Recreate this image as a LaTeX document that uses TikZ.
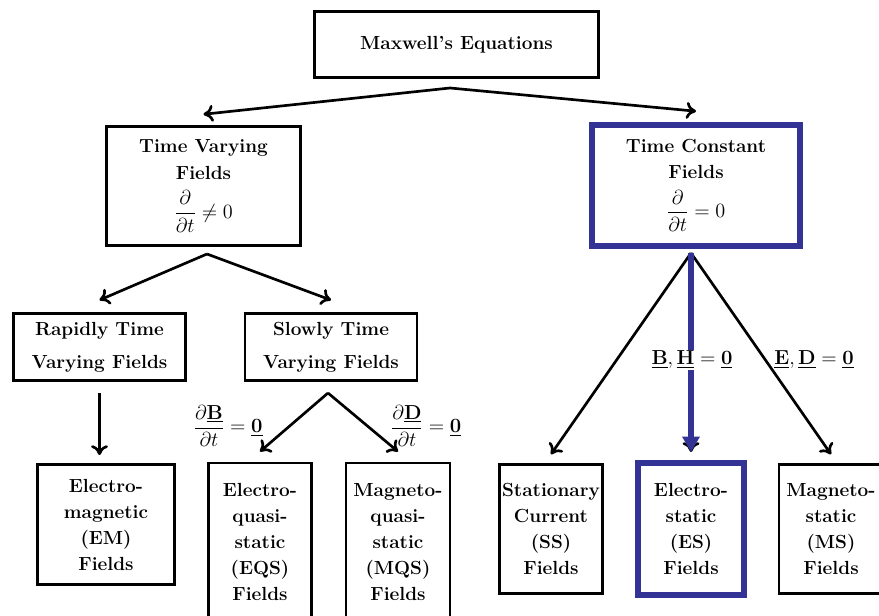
\documentclass[tikz,border=0pt]{standalone}
\usetikzlibrary{arrows.meta}
\usepackage{xcolor}
\definecolor{esblue}{RGB}{51,51,150}

% underlined bold vector
\newcommand{\vb}[1]{\underline{\mathbf{#1}}}

\begin{document}
\begin{tikzpicture}[x=0.025cm,y=-0.025cm,
  font=\fontsize{13.5}{18.5}\selectfont\bfseries,
  box/.style={draw,line width=2pt,align=center,inner sep=0pt},
  bluebox/.style={box,draw=esblue,line width=4.2pt},
  arr/.style={line width=1.9pt,-{To[length=7pt,width=12pt]}},
  bluearr/.style={esblue,line width=3.6pt,-{Triangle[length=11pt,width=12pt]}},
  cond/.style={font=\fontsize{13.5}{16}\selectfont,inner sep=1pt}]
\useasboundingbox (0,0) rectangle (879,616);
\clip (0,0) rectangle (879,616);

% boxes
\node[box,minimum width=7.1cm,minimum height=1.65cm] (maxwell) at (456.5,44.5) {Maxwell's Equations};
\node[box,minimum width=4.85cm,minimum height=2.975cm] (varying) at (203.5,186) {Time Varying\\Fields\\[7pt]$\displaystyle\frac{\partial}{\partial t}\neq 0$};
\node[bluebox,minimum width=5.2cm,minimum height=3.025cm] (constant) at (696,185.5) {Time Constant\\Fields\\[7pt]$\displaystyle\frac{\partial}{\partial t}=0$};
\node[box,minimum width=4.3cm,minimum height=1.675cm] (rapid) at (99.5,347) {Rapidly Time\\[5pt]Varying Fields};
\node[box,minimum width=4.3cm,minimum height=1.675cm] (slow) at (331,347) {Slowly Time\\[5pt]Varying Fields};
\node[box,minimum width=3.425cm,minimum height=3cm] (em) at (106,524.5) {Electro-\\magnetic\\(EM)\\Fields};
\node[box,minimum width=2.575cm,minimum height=3.95cm] (eqs) at (260,542) {Electro-\\quasi-\\static\\(EQS)\\Fields};
\node[box,minimum width=2.6cm,minimum height=3.95cm] (mqs) at (398,542) {Magneto-\\quasi-\\static\\(MQS)\\Fields};
\node[box,minimum width=2.575cm,minimum height=3.225cm] (ss) at (551,529) {Stationary\\Current\\(SS)\\Fields};
\node[bluebox,minimum width=2.65cm,minimum height=3.3cm] (es) at (691,529) {Electro-\\static\\(ES)\\Fields};
\node[box,minimum width=2.6cm,minimum height=3.225cm] (ms) at (831,529) {Magneto-\\static\\(MS)\\Fields};

% branch points
\coordinate (mapex) at (450,88);
\coordinate (vapex) at (207,254);
\coordinate (sapex) at (328,393);
\coordinate (capex) at (691,253);

% connectors
\draw[arr] (mapex) -- ([yshift=0.27cm]varying.north);
\draw[arr] (mapex) -- ([yshift=0.27cm]constant.north);
\draw[arr] (vapex) -- ([yshift=0.3cm]rapid.north);
\draw[arr] (vapex) -- ([yshift=0.3cm]slow.north);
\draw[arr] ([yshift=-0.28cm]rapid.south) -- ([yshift=0.2cm]rapid.south |- em.north);
\draw[arr] (sapex) -- ([yshift=0.25cm]eqs.north);
\draw[arr] (sapex) -- ([yshift=0.25cm]mqs.north);
\draw[arr] (capex) -- ([yshift=0.22cm]ss.north);
\draw[arr] (capex) -- ([yshift=0.22cm]ms.north);
\draw[arr] (capex) -- ([yshift=0.2cm]es.north);
\draw[bluearr] (capex) -- ([yshift=0.2cm]es.north);

% conditions
\node[cond] (dB) at (228,426) {$\displaystyle\frac{\partial\vb{B}}{\partial t}=\vb{0}$};
\node[cond] (dD) at (426,426) {$\displaystyle\frac{\partial\vb{D}}{\partial t}=\vb{0}$};
\node[cond,fill=white] (bh) at (692,360) {$\vb{B},\vb{H}=\vb{0}$};
\node[cond] (ed) at (814,360) {$\vb{E},\vb{D}=\vb{0}$};
\end{tikzpicture}
\end{document}
